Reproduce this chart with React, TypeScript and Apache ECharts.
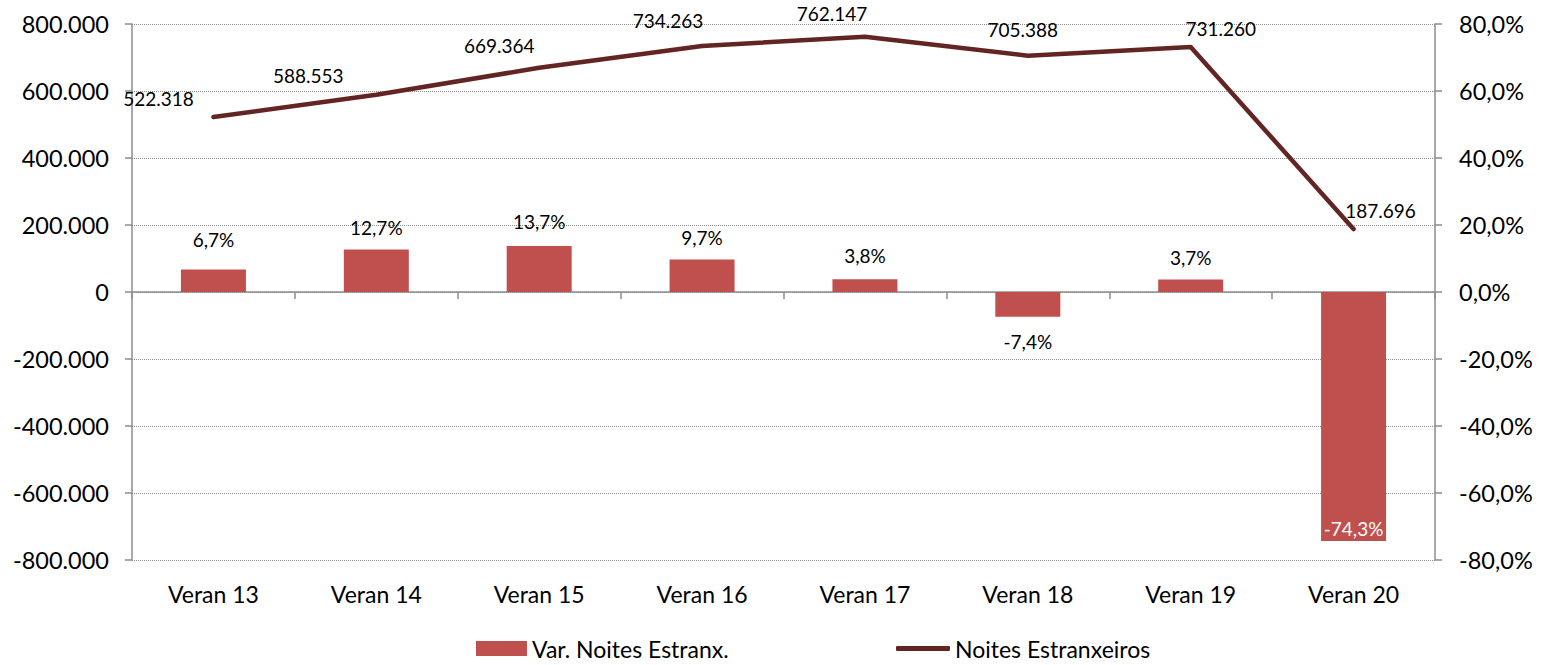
import React, { useEffect, useRef } from "react";
import * as echarts from "echarts";

const categories = ["Veran 13", "Veran 14", "Veran 15", "Veran 16", "Veran 17", "Veran 18", "Veran 19", "Veran 20"];
const noitesEstranxeiros = [522318, 588553, 669364, 734263, 762147, 705388, 731260, 187696];
const varNoites = [6.7, 12.7, 13.7, 9.7, 3.8, -7.4, 3.7, -74.3];
const seriesNames = ["Var. Noites Estranx.", "Noites Estranxeiros"];

// label layout (pixels) – visual placement only
const lineLabelOffsets: [number, number][] = [
  [-55, -19], [-68, -19], [-40, -22], [-34, -26], [-33, -23], [-5, -26], [30, -19], [27, -19],
];
const barLabelDistances = [21, 12, 15, 13, 14, 15, 13, 3];

const BAR_COLOR = "#C0504D";
const LINE_COLOR = "#632523";
const AXIS_COLOR = "#8C8C8C";
const FONT = "Lato";

const fmtThousands = (v: number) => {
  const s = Math.abs(Math.round(v)).toString().replace(/\B(?=(\d{3})+(?!\d))/g, ".");
  return (v < 0 ? "-" : "") + s;
};
const fmtPct = (v: number) => v.toFixed(1).replace(".", ",") + "%";

export default function App() {
  const ref = useRef<HTMLDivElement>(null);
  useEffect(() => {
    document.body.style.margin = "0";
    if (!ref.current) return;
    const chart = echarts.init(ref.current, null, { renderer: "svg" });
    const barData = varNoites.map((v, i) => {
      const last = v < -50;
      return {
        value: v,
        label: {
          show: true,
          position: last ? "insideBottom" : v < 0 ? "bottom" : "top",
          distance: barLabelDistances[i],
          color: last ? "#FFFFFF" : "#000000",
        },
      };
    });
    const lineData = noitesEstranxeiros.map((v, i) => ({
      value: v,
      label: { show: true, position: "inside", offset: lineLabelOffsets[i] },
    }));
    const legendText = { fontFamily: FONT, fontSize: 23, color: "#000", lineHeight: 23 };
    chart.setOption({
      animation: false,
      textStyle: { fontFamily: FONT },
      grid: { left: 132, right: 106, top: 24, bottom: 105, containLabel: false },
      legend: [
        {
          data: [seriesNames[0]],
          left: 476,
          top: 637,
          padding: 0,
          itemWidth: 51,
          itemHeight: 15,
          icon: "rect",
          textStyle: legendText,
        },
        {
          data: [seriesNames[1]],
          left: 896,
          top: 637,
          padding: 0,
          itemWidth: 54,
          itemHeight: 5,
          icon: "roundRect",
          textStyle: legendText,
        },
      ],
      xAxis: [
        {
          type: "category",
          data: categories,
          position: "bottom",
          axisLine: { show: false, onZero: false },
          axisTick: { show: false },
          axisLabel: { fontFamily: FONT, fontSize: 23, color: "#000", margin: 22 },
          splitLine: { show: false },
        },
        {
          type: "category",
          data: categories,
          position: "bottom",
          axisLine: { show: true, onZero: true, onZeroAxisIndex: 0, lineStyle: { color: AXIS_COLOR, width: 1.5 } },
          axisTick: { show: true, length: 7, lineStyle: { color: AXIS_COLOR, width: 1.5 } },
          axisLabel: { show: false },
          splitLine: { show: false },
        },
      ],
      yAxis: [
        {
          type: "value",
          min: -800000,
          max: 800000,
          interval: 200000,
          position: "left",
          axisLine: { show: true, lineStyle: { color: AXIS_COLOR, width: 1.5 } },
          axisTick: { show: true, length: 7, lineStyle: { color: AXIS_COLOR, width: 1.5 } },
          axisLabel: { fontFamily: FONT, fontSize: 23.5, color: "#000", margin: 23, formatter: (v: number) => fmtThousands(v) },
          splitLine: { show: true, lineStyle: { color: "#8C8C8C", type: "dotted", width: 1 } },
        },
        {
          type: "value",
          min: -80,
          max: 80,
          interval: 20,
          position: "right",
          axisLine: { show: true, lineStyle: { color: AXIS_COLOR, width: 1.5 } },
          axisTick: { show: true, length: 7, lineStyle: { color: AXIS_COLOR, width: 1.5 } },
          axisLabel: { fontFamily: FONT, fontSize: 23.5, color: "#000", margin: 24, formatter: (v: number) => fmtPct(v) },
          splitLine: { show: false },
        },
      ],
      series: [
        {
          name: seriesNames[0],
          type: "bar",
          xAxisIndex: 0,
          yAxisIndex: 1,
          data: barData,
          barWidth: 65,
          itemStyle: { color: BAR_COLOR },
          label: { fontFamily: FONT, fontSize: 19, formatter: (p: any) => fmtPct(p.value) },
          z: 2,
        },
        {
          name: seriesNames[1],
          type: "line",
          xAxisIndex: 0,
          yAxisIndex: 0,
          data: lineData,
          symbol: "circle",
          symbolSize: 1,
          showSymbol: true,
          itemStyle: { color: LINE_COLOR },
          lineStyle: { color: LINE_COLOR, width: 4.5, cap: "round", join: "round" },
          label: { fontFamily: FONT, fontSize: 19, color: "#000", formatter: (p: any) => fmtThousands(p.value) },
          z: 3,
        },
      ],
    });
    return () => chart.dispose();
  }, []);
  return <div ref={ref} style={{ width: 1541, height: 665 }} />;
}
